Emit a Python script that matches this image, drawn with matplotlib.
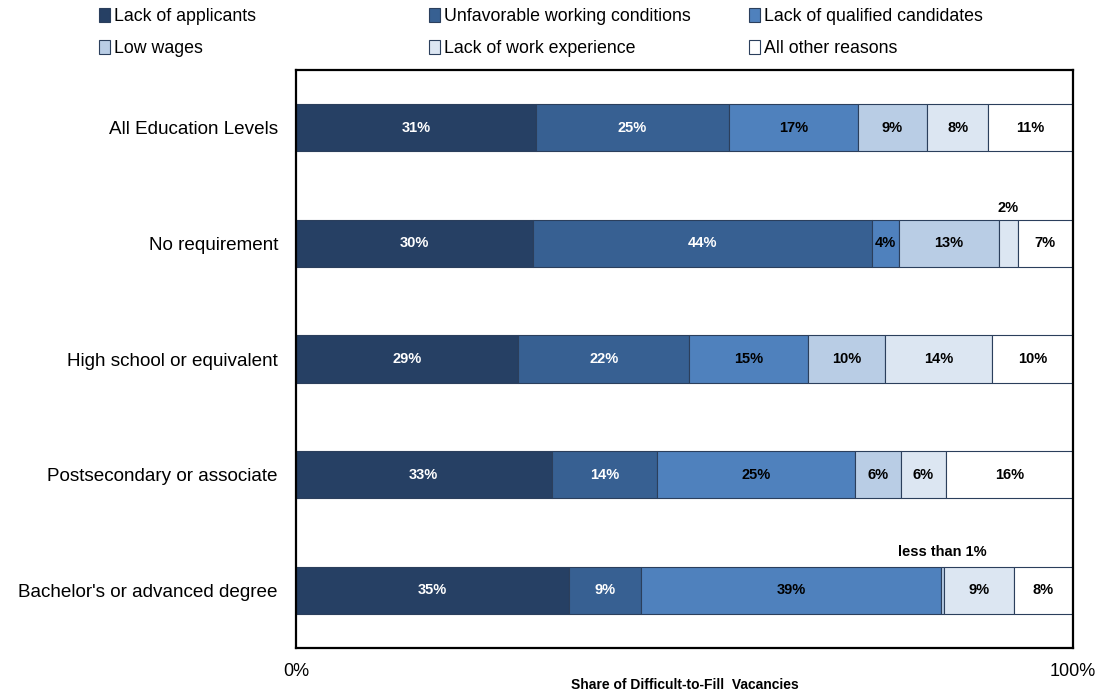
import numpy as np
import matplotlib
matplotlib.use('Agg')
import matplotlib.pyplot as plt
from matplotlib.patches import Patch

plt.rcParams['font.family'] = ['Liberation Sans', 'DejaVu Sans']

# Education levels (top to bottom)
levels = ['All Education Levels', 'No requirement', 'High school or equivalent',
          'Postsecondary or associate', "Bachelor's or advanced degree"]

# Reasons, share of difficult-to-fill vacancies (%)
lack_of_applicants = [30.9, 30.5, 28.6, 32.9, 35.1]
unfavorable_conditions = [24.8, 43.6, 22.0, 13.6, 9.3]
lack_of_qualified = [16.6, 3.5, 15.3, 25.4, 38.6]
low_wages = [8.9, 12.9, 9.9, 5.9, 0.4]
lack_of_experience = [7.9, 2.4, 13.8, 5.8, 9.0]
other_reasons = [10.9, 7.1, 10.4, 16.4, 7.6]

reasons = ['Lack of applicants', 'Unfavorable working conditions', 'Lack of qualified candidates',
           'Low wages', 'Lack of work experience', 'All other reasons']
colors = ['#264064', '#376092', '#4f81bd', '#b9cde5', '#dce6f2', '#ffffff']
label_colors = ['white', 'white', 'black', 'black', 'black', 'black']

data = np.array([lack_of_applicants, unfavorable_conditions, lack_of_qualified,
                 low_wages, lack_of_experience, other_reasons])

fig = plt.figure(figsize=(10.99, 6.93), dpi=100)
ax = fig.add_axes([296 / 1099, 1 - 648 / 693, 777 / 1099, 578 / 693])

y = np.arange(len(levels))
left = np.zeros(len(levels))
for i, name in enumerate(reasons):
    vals = data[i]
    ax.barh(y, vals, left=left, height=0.41, color=colors[i],
            edgecolor='#2b3f5c', linewidth=0.8, label=name)
    for j, v in enumerate(vals):
        cx = left[j] + v / 2
        if v < 1:
            # tiny segment: label sits above the bar
            ax.text(cx, y[j] - 0.33, 'less than 1%', ha='center', va='center',
                    fontsize=10.5, fontweight='bold')
        elif v < 3:
            ax.text(cx, y[j] - 0.31, f'{round(v)}%', ha='center', va='center',
                    fontsize=10.5, fontweight='bold')
        else:
            ax.text(cx, y[j], f'{round(v)}%', ha='center', va='center',
                    fontsize=10.5, fontweight='bold', color=label_colors[i])
    left += vals

ax.set_xlim(0, 100)
ax.set_ylim(len(levels) - 0.5, -0.5)
ax.set_yticks(y)
ax.set_yticklabels(levels, fontsize=13.6)
ax.set_xticks([0, 100])
ax.set_xticklabels(['0%', '100%'], fontsize=13)
ax.tick_params(axis='both', length=0)
ax.tick_params(axis='y', pad=13)
ax.tick_params(axis='x', pad=11)
ax.set_xlabel('Share of Difficult-to-Fill  Vacancies', fontsize=10, fontweight='bold')
ax.xaxis.set_label_coords(0.5, -(685 - 648) / 578)
ax.xaxis.label.set_va('center')
for s in ax.spines.values():
    s.set_linewidth(1.6)
    s.set_color('black')

# Legend: three columns placed by hand
col_x = [99, 429, 749]
for c in range(3):
    handles = [Patch(facecolor=colors[c + 3 * r], edgecolor='#2b3f5c', linewidth=0.8)
               for r in range(2)]
    fig.legend(handles, [reasons[c + 3 * r] for r in range(2)],
               loc='upper left', bbox_to_anchor=(col_x[c] / 1099, 1 - 8 / 693),
               frameon=False, fontsize=12.8, handlelength=0.6, handleheight=0.8,
               handletextpad=0.25, labelspacing=0.85, borderaxespad=0, borderpad=0)

fig.savefig('out.png', dpi=100)
